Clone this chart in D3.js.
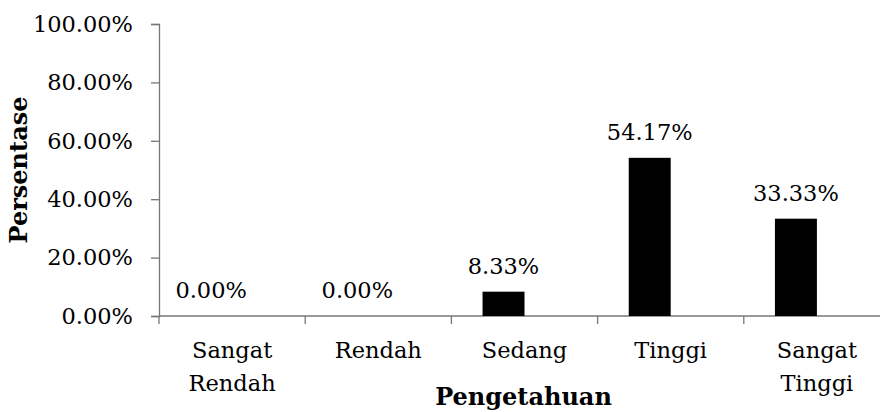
<!DOCTYPE html>
<html>
<head>
<meta charset="utf-8">
<script src="https://cdn.jsdelivr.net/npm/d3@7"></script>
<style>
  body { margin: 0; background: #fff; }
  text { font-family: "DejaVu Serif", serif; fill: #000; }
</style>
</head>
<body>
<div id="chart"></div>
<script>
var categories = [["Sangat", "Rendah"], ["Rendah"], ["Sedang"], ["Tinggi"], ["Sangat", "Tinggi"]];
var values = [0, 0, 8.33, 54.17, 33.33];
var yTicks = [0, 20, 40, 60, 80, 100];

var svgWidth = 880;
var svgHeight = 412;

var margin = { top: 24, right: -10, bottom: 96, left: 159 };
var width = svgWidth - margin.left - margin.right;
var height = svgHeight - margin.top - margin.bottom;

var fontSize = "22.5px";

var svg = d3.select("#chart")
  .append("svg")
  .attr("width", svgWidth)
  .attr("height", svgHeight);

var chartGroup = svg.append("g")
  .attr("transform", `translate(${margin.left}, ${margin.top})`);

var xScale = d3.scaleBand()
  .domain(d3.range(categories.length))
  .range([0, width]);

var yScale = d3.scaleLinear()
  .domain([0, 100])
  .range([height, 0]);

var barWidth = xScale.bandwidth() * 0.287;

// y axis
var leftAxis = d3.axisLeft(yScale)
  .tickValues(yTicks)
  .tickSize(8)
  .tickPadding(18)
  .tickFormat(d => d.toFixed(2) + "%");

var yAxis = chartGroup.append("g").call(leftAxis);
yAxis.select(".domain").attr("stroke", "#777").attr("stroke-width", 1.3);
yAxis.selectAll(".tick line").attr("stroke", "#777").attr("stroke-width", 1.3);
yAxis.selectAll("text").attr("font-size", fontSize).attr("font-family", "DejaVu Serif");

// x axis line + boundary ticks
chartGroup.append("line")
  .attr("x1", 0).attr("x2", width)
  .attr("y1", height).attr("y2", height)
  .attr("stroke", "#777").attr("stroke-width", 1.3);

chartGroup.selectAll(".xtick")
  .data(d3.range(categories.length))
  .enter()
  .append("line")
  .attr("x1", d => xScale(d)).attr("x2", d => xScale(d))
  .attr("y1", height).attr("y2", height + 8)
  .attr("stroke", "#777").attr("stroke-width", 1.3);

// bars (drawn to the left of band centre)
chartGroup.selectAll(".bar")
  .data(values)
  .enter()
  .append("rect")
  .attr("x", (d, i) => xScale(i) + xScale.bandwidth() / 2 - barWidth)
  .attr("y", d => yScale(d))
  .attr("width", barWidth)
  .attr("height", d => height - yScale(d))
  .attr("fill", "#000");

// value labels
chartGroup.selectAll(".vlabel")
  .data(values)
  .enter()
  .append("text")
  .attr("x", (d, i) => xScale(i) + xScale.bandwidth() / 2 - barWidth / 2)
  .attr("y", d => yScale(d) - 18)
  .attr("text-anchor", "middle")
  .attr("font-size", fontSize)
  .text(d => d.toFixed(2) + "%");

// category labels
var catLabels = chartGroup.selectAll(".clabel")
  .data(categories)
  .enter()
  .append("text")
  .attr("text-anchor", "middle")
  .attr("font-size", fontSize)
  .attr("transform", (d, i) => `translate(${xScale(i) + xScale.bandwidth() / 2}, ${height + 42})`);

catLabels.selectAll("tspan")
  .data(d => d)
  .enter()
  .append("tspan")
  .attr("x", 0)
  .attr("y", (d, i) => i * 33)
  .text(d => d);

// axis titles
svg.append("text")
  .attr("transform", `translate(${margin.left + (svgWidth - margin.left) / 2 + 4}, 405)`)
  .attr("text-anchor", "middle")
  .attr("font-size", "24px")
  .attr("font-weight", "bold")
  .text("Pengetahuan");

svg.append("text")
  .attr("transform", `translate(27, ${margin.top + height / 2}) rotate(-90)`)
  .attr("text-anchor", "middle")
  .attr("font-size", "24px")
  .attr("font-weight", "bold")
  .text("Persentase");
</script>
</body>
</html>
